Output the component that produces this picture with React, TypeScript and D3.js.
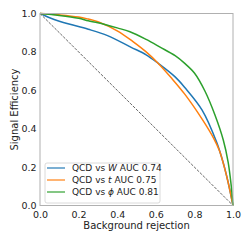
import { useEffect, useRef } from "react";
import * as d3 from "d3";

// ROC curves: background rejection (x) vs signal efficiency (y)
const wRejection = [0, 0.05, 0.1, 0.15, 0.25, 0.35, 0.47, 0.55, 0.613, 0.7, 0.75, 0.84, 0.915, 0.95, 0.975, 1.0];
const wEfficiency = [1, 0.978, 0.96, 0.945, 0.918, 0.885, 0.825, 0.785, 0.74, 0.67, 0.615, 0.497, 0.33, 0.22, 0.12, 0];

const tRejection = [0, 0.1, 0.2, 0.25, 0.3, 0.4, 0.48, 0.55, 0.613, 0.68, 0.75, 0.84, 0.9, 0.93, 0.955, 0.975, 1.0];
const tEfficiency = [1, 0.993, 0.982, 0.971, 0.957, 0.91, 0.855, 0.8, 0.74, 0.665, 0.58, 0.45, 0.35, 0.285, 0.2, 0.12, 0];

const phiRejection = [0, 0.1, 0.2, 0.25, 0.3, 0.4, 0.466, 0.55, 0.622, 0.7, 0.75, 0.8, 0.855, 0.907, 0.95, 0.975, 0.99, 1.0];
const phiEfficiency = [1, 0.99, 0.975, 0.962, 0.952, 0.925, 0.905, 0.865, 0.825, 0.78, 0.74, 0.69, 0.595, 0.47, 0.34, 0.225, 0.11, 0];

const seriesNames = ["W", "t", "ϕ"];
const seriesAuc = ["0.74", "0.75", "0.81"];
const seriesColors = ["#1f77b4", "#ff7f0e", "#2ca02c"];
const ticks = [0, 0.2, 0.4, 0.6, 0.8, 1.0];

export default function App() {
  const ref = useRef<SVGSVGElement>(null);

  useEffect(() => {
    const width = 251;
    const height = 240;
    const margin = { top: 13.5, right: 18, bottom: 34.5, left: 40 };
    const font = "DejaVu Sans, sans-serif";

    const svg = d3.select(ref.current);
    svg.selectAll("*").remove();
    svg.attr("viewBox", `0 0 ${width} ${height}`);

    const x = d3.scaleLinear().domain([0, 1]).range([margin.left, width - margin.right]);
    const y = d3.scaleLinear().domain([0, 1]).range([height - margin.bottom, margin.top]);

    // diagonal reference
    svg
      .append("line")
      .attr("x1", x(0))
      .attr("y1", y(1))
      .attr("x2", x(1))
      .attr("y2", y(0))
      .attr("stroke", "#222")
      .attr("stroke-width", 0.7)
      .attr("stroke-dasharray", "2.8,1.3");

    const series = [
      { xs: wRejection, ys: wEfficiency },
      { xs: tRejection, ys: tEfficiency },
      { xs: phiRejection, ys: phiEfficiency },
    ];

    const line = d3
      .line<[number, number]>()
      .x((d) => x(d[0]))
      .y((d) => y(d[1]))
      .curve(d3.curveCatmullRom.alpha(0.5));

    series.forEach((s, i) => {
      const pts = s.xs.map((v, j) => [v, s.ys[j]] as [number, number]);
      svg
        .append("path")
        .attr("d", line(pts))
        .attr("fill", "none")
        .attr("stroke", seriesColors[i])
        .attr("stroke-width", 1.5);
    });

    // frame
    svg
      .append("rect")
      .attr("x", x(0))
      .attr("y", y(1))
      .attr("width", x(1) - x(0))
      .attr("height", y(0) - y(1))
      .attr("fill", "none")
      .attr("stroke", "#b0b0b0")
      .attr("stroke-width", 1);

    const xAxis = svg
      .append("g")
      .attr("transform", `translate(0,${y(0)})`)
      .call(d3.axisBottom(x).tickValues(ticks).tickSize(0).tickPadding(0).tickFormat(d3.format(".1f")));
    xAxis.select(".domain").remove();
    xAxis
      .selectAll("text")
      .attr("dy", null)
      .attr("y", 12)
      .attr("fill", "#222")
      .attr("font-size", 9.5)
      .attr("font-family", font);

    const yAxis = svg
      .append("g")
      .attr("transform", `translate(${x(0)},0)`)
      .call(d3.axisLeft(y).tickValues(ticks).tickSize(0).tickPadding(3.5).tickFormat(d3.format(".1f")));
    yAxis.select(".domain").remove();
    yAxis
      .selectAll("text")
      .attr("fill", "#222")
      .attr("font-size", 9.5)
      .attr("font-family", font);

    svg
      .append("text")
      .attr("x", (x(0) + x(1)) / 2)
      .attr("y", 229)
      .attr("text-anchor", "middle")
      .attr("font-size", 10)
      .attr("font-family", font)
      .attr("fill", "#222")
      .text("Background rejection");

    svg
      .append("text")
      .attr("transform", `translate(18,${(y(0) + y(1)) / 2}) rotate(-90)`)
      .attr("text-anchor", "middle")
      .attr("font-size", 10)
      .attr("font-family", font)
      .attr("fill", "#222")
      .text("Signal Efficiency");

    // legend
    const lg = svg.append("g").attr("transform", "translate(45,163)");
    lg.append("rect")
      .attr("width", 115)
      .attr("height", 40)
      .attr("rx", 2)
      .attr("fill", "white")
      .attr("fill-opacity", 0.85)
      .attr("stroke", "#d0d0d0")
      .attr("stroke-width", 0.8);

    seriesNames.forEach((name, i) => {
      const cy = 5 + i * 12;
      lg.append("line")
        .attr("x1", 2)
        .attr("x2", 20)
        .attr("y1", cy)
        .attr("y2", cy)
        .attr("stroke", seriesColors[i])
        .attr("stroke-opacity", 0.65)
        .attr("stroke-width", 1.8);
      const t = lg
        .append("text")
        .attr("x", 27)
        .attr("y", cy + 3.3)
        .attr("font-size", 9)
        .attr("font-family", font)
        .attr("fill", "#222");
      t.append("tspan").text("QCD vs ");
      t.append("tspan").attr("font-style", "italic").text(name);
      t.append("tspan").text(` AUC ${seriesAuc[i]}`);
    });
  }, []);

  return (
    <svg
      ref={ref}
      width={251}
      height={240}
      style={{ position: "absolute", left: 0, top: 0, background: "white" }}
    />
  );
}
